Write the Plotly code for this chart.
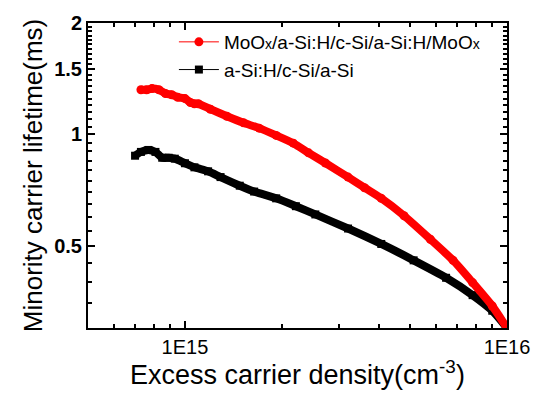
import plotly.graph_objects as go

# Excess carrier density (cm^-3) and minority carrier lifetime (ms)
moox_density = [7.3e14, 7.6e14, 7.9e14, 8.3e14, 8.7e14, 9.1e14, 9.5e14, 1.0e15, 1.04e15, 1.07e15,
                1.10e15, 1.20e15, 1.35e15, 1.52e15, 1.70e15, 1.92e15, 2.17e15, 2.42e15, 2.73e15,
                3.21e15, 3.61e15, 4.07e15, 4.79e15, 5.78e15, 6.80e15, 7.82e15, 9.00e15, 1.0e16]
moox_lifetime = [1.32, 1.32, 1.33, 1.32, 1.29, 1.28, 1.26, 1.25, 1.22, 1.21,
                 1.21, 1.17, 1.12, 1.075, 1.04, 0.994, 0.947, 0.892, 0.837,
                 0.767, 0.718, 0.672, 0.603, 0.521, 0.457, 0.398, 0.344, 0.30]

asi_density = [7.0e14, 7.3e14, 7.7e14, 8.1e14, 8.5e14, 8.9e14, 9.3e14, 1.0e15, 1.07e15, 1.18e15,
               1.29e15, 1.48e15, 1.64e15, 1.92e15, 2.21e15, 2.54e15, 3.21e15, 4.07e15, 5.13e15,
               6.47e15, 7.82e15, 9.00e15, 1.0e16]
asi_lifetime = [0.876, 0.897, 0.908, 0.897, 0.865, 0.865, 0.86, 0.836, 0.815, 0.795,
                0.767, 0.727, 0.701, 0.672, 0.640, 0.608, 0.557, 0.506, 0.457,
                0.410, 0.368, 0.334, 0.30]

moox_name = "MoO<span style='font-size:14px'>x</span>/a-Si:H/c-Si/a-Si:H/MoO<span style='font-size:14px'>x</span>"
asi_name = "a-Si:H/c-Si/a-Si"

x_title = "Excess carrier density(cm<sup>-3</sup>)"
y_title = "Minority carrier lifetime(ms)"

x_tickvals = [1e15, 1e16]
x_ticktext = ["1E15", "1E16"]
x_minor = [6e14, 7e14, 8e14, 9e14, 2e15, 3e15, 4e15, 5e15, 6e15, 7e15, 8e15, 9e15]
y_tickvals = [0.5, 1, 1.5, 2]
y_ticktext = ["0.5", "1", "1.5", "2"]
y_minor = [0.35, 0.4, 0.45, 0.55, 0.6, 0.65, 0.7, 0.75, 0.8, 0.85, 0.9, 0.95,
           1.05, 1.1, 1.15, 1.2, 1.25, 1.3, 1.35, 1.4, 1.45,
           1.55, 1.6, 1.65, 1.7, 1.75, 1.8, 1.85, 1.9, 1.95]

FONT = "Arial, Liberation Sans, sans-serif"

fig = go.Figure()
# thick bands formed by the dense markers
fig.add_trace(go.Scatter(x=asi_density, y=asi_lifetime, mode="lines",
                         line=dict(color="black", width=8, shape="spline", smoothing=0.6),
                         showlegend=False, hoverinfo="skip"))
fig.add_trace(go.Scatter(x=asi_density, y=asi_lifetime, mode="lines+markers", name=asi_name,
                         line=dict(color="black", width=1),
                         marker=dict(symbol="square", size=8, color="black"), legendrank=2))
fig.add_trace(go.Scatter(x=moox_density, y=moox_lifetime, mode="lines",
                         line=dict(color="#ff0000", width=8, shape="spline", smoothing=0.6),
                         showlegend=False, hoverinfo="skip"))
fig.add_trace(go.Scatter(x=moox_density, y=moox_lifetime, mode="lines+markers", name=moox_name,
                         line=dict(color="#ff0000", width=1),
                         marker=dict(symbol="circle", size=9, color="#ff0000"), legendrank=1))

fig.update_layout(
    width=542, height=397,
    margin=dict(l=88, r=27, t=14, b=69),
    paper_bgcolor="white", plot_bgcolor="white",
    font=dict(family=FONT, color="black"),
    legend=dict(x=0.205, y=1.0, xanchor="left", yanchor="top",
                bgcolor="rgba(0,0,0,0)", font=dict(size=19, family=FONT),
                tracegroupgap=0, itemwidth=40),
    xaxis=dict(type="log", range=[14.69897, 16],
               tickmode="array", tickvals=x_tickvals, ticktext=x_ticktext,
               ticks="inside", ticklen=7, tickwidth=1.5, tickcolor="black",
               minor=dict(tickmode="array", tickvals=x_minor, ticks="inside", ticklen=4,
                          tickwidth=1.5, tickcolor="black", showgrid=False),
               showline=True, linewidth=2, linecolor="black", mirror="ticks",
               showgrid=False, zeroline=False,
               tickfont=dict(size=20, family=FONT)),
    yaxis=dict(type="log", range=[-0.522879, 0.30103],
               tickmode="array", tickvals=y_tickvals, ticktext=y_ticktext,
               ticks="inside", ticklen=7, tickwidth=1.5, tickcolor="black",
               minor=dict(tickmode="array", tickvals=y_minor, ticks="inside", ticklen=4,
                          tickwidth=1.5, tickcolor="black", showgrid=False),
               showline=True, linewidth=2, linecolor="black", mirror="ticks",
               showgrid=False, zeroline=False,
               tickfont=dict(size=20, family=FONT, weight=700),
               title=dict(text=y_title, font=dict(size=26, family=FONT), standoff=4)),
    annotations=[dict(text=x_title, xref="paper", yref="paper", x=0.5, y=-0.085,
                      xanchor="center", yanchor="top", showarrow=False,
                      font=dict(size=27, family=FONT, color="black"))],
)

fig.write_html("out.html")
